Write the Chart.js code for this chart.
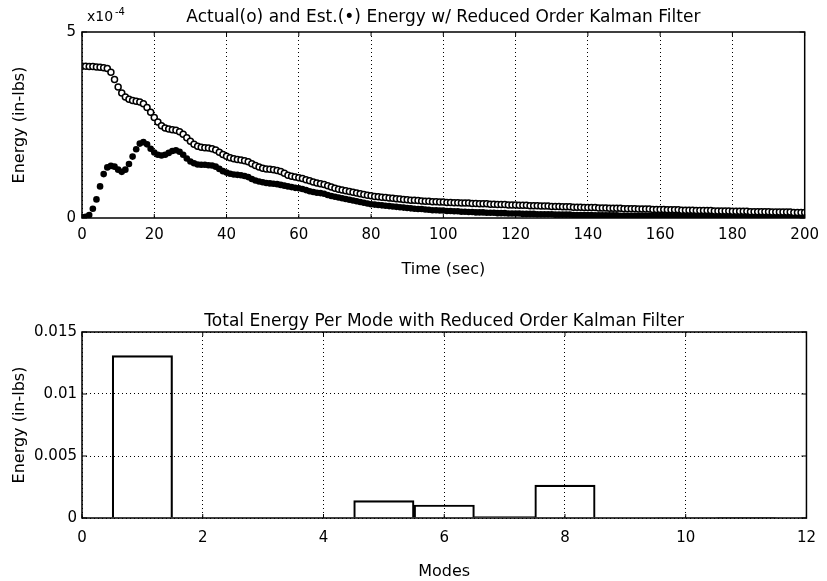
<!DOCTYPE html>
<html>
<head>
<meta charset="utf-8">
<title>Energy w/ Reduced Order Kalman Filter</title>
<script src="https://cdn.jsdelivr.net/npm/chart.js@4.4.1/dist/chart.umd.min.js"></script>
<style>
  html, body { margin: 0; padding: 0; background: #fff; }
  #wrap { position: relative; width: 827px; height: 581px; }
  #energyChart { position: absolute; left: 0; top: 0; }
  #modeChart { position: absolute; left: 0; top: 290px; }
</style>
</head>
<body>
<div id="wrap">
  <canvas id="energyChart" width="827" height="290"></canvas>
  <canvas id="modeChart" width="827" height="291"></canvas>
</div>
<script>
/* ---- Data ---- */
const timeSec = [
  0,1,2,3,4,5,6,7,8,9,10,11,12,13,14,15,16,17,18,19,
  20,21,22,23,24,25,26,27,28,29,30,31,32,33,34,35,36,37,38,39,
  40,41,42,43,44,45,46,47,48,49,50,51,52,53,54,55,56,57,58,59,
  60,61,62,63,64,65,66,67,68,69,70,71,72,73,74,75,76,77,78,79,
  80,81,82,83,84,85,86,87,88,89,90,91,92,93,94,95,96,97,98,99,
  100,101,102,103,104,105,106,107,108,109,110,111,112,113,114,115,116,117,118,119,
  120,121,122,123,124,125,126,127,128,129,130,131,132,133,134,135,136,137,138,139,
  140,141,142,143,144,145,146,147,148,149,150,151,152,153,154,155,156,157,158,159,
  160,161,162,163,164,165,166,167,168,169,170,171,172,173,174,175,176,177,178,179,
  180,181,182,183,184,185,186,187,188,189,190,191,192,193,194,195,196,197,198,199,
  200
];

// energy in units of 1e-4 in-lbs (axis shows x10^-4)
const actualEnergy = [
  4.08,4.08,4.07,4.07,4.06,4.05,4.04,4.02,3.92,3.72,
  3.52,3.36,3.25,3.19,3.16,3.14,3.12,3.07,2.97,2.84,
  2.70,2.58,2.48,2.42,2.39,2.37,2.36,2.32,2.25,2.16,
  2.06,1.98,1.93,1.90,1.89,1.88,1.86,1.83,1.77,1.71,
  1.66,1.62,1.59,1.57,1.56,1.54,1.51,1.46,1.41,1.37,
  1.34,1.32,1.31,1.30,1.28,1.25,1.20,1.15,1.12,1.10,
  1.08,1.06,1.03,1.00,0.97,0.94,0.92,0.90,0.87,0.83,
  0.80,0.77,0.75,0.73,0.71,0.69,0.67,0.65,0.63,0.61,
  0.60,0.58,0.57,0.56,0.55,0.54,0.53,0.52,0.51,0.50,
  0.49,0.48,0.48,0.47,0.46,0.45,0.45,0.44,0.44,0.43,
  0.43,0.42,0.42,0.41,0.41,0.40,0.40,0.40,0.39,0.39,
  0.38,0.38,0.38,0.37,0.37,0.36,0.36,0.36,0.35,0.35,
  0.35,0.34,0.34,0.34,0.33,0.33,0.33,0.32,0.32,0.32,
  0.31,0.31,0.31,0.30,0.30,0.30,0.29,0.29,0.29,0.28,
  0.28,0.28,0.28,0.27,0.27,0.27,0.26,0.26,0.26,0.26,
  0.25,0.25,0.25,0.25,0.24,0.24,0.24,0.24,0.23,0.23,
  0.23,0.23,0.22,0.22,0.22,0.22,0.21,0.21,0.21,0.21,
  0.20,0.20,0.20,0.20,0.20,0.19,0.19,0.19,0.19,0.19,
  0.18,0.18,0.18,0.18,0.18,0.17,0.17,0.17,0.17,0.17,
  0.17,0.16,0.16,0.16,0.16,0.16,0.16,0.15,0.15,0.15,
  0.15
];

const estEnergy = [
  0.02,0.03,0.08,0.25,0.50,0.85,1.18,1.36,1.40,1.38,
  1.30,1.24,1.30,1.45,1.65,1.85,2.00,2.04,1.98,1.86,
  1.76,1.70,1.68,1.70,1.75,1.80,1.82,1.78,1.70,1.60,
  1.52,1.47,1.44,1.43,1.43,1.42,1.41,1.38,1.32,1.26,
  1.22,1.19,1.17,1.16,1.15,1.13,1.10,1.05,1.01,0.98,
  0.96,0.94,0.93,0.92,0.91,0.89,0.87,0.85,0.83,0.81,
  0.80,0.78,0.75,0.72,0.70,0.68,0.67,0.65,0.62,0.59,
  0.57,0.55,0.53,0.51,0.49,0.47,0.45,0.43,0.41,0.39,
  0.37,0.36,0.35,0.34,0.33,0.32,0.31,0.30,0.29,0.28,
  0.27,0.26,0.25,0.24,0.24,0.23,0.22,0.21,0.21,0.20,
  0.20,0.19,0.19,0.18,0.18,0.17,0.17,0.16,0.16,0.15,
  0.15,0.15,0.14,0.14,0.14,0.13,0.13,0.13,0.12,0.12,
  0.12,0.12,0.11,0.11,0.11,0.11,0.10,0.10,0.10,0.10,
  0.10,0.09,0.09,0.09,0.09,0.09,0.08,0.08,0.08,0.08,
  0.08,0.08,0.07,0.07,0.07,0.07,0.07,0.07,0.07,0.06,
  0.06,0.06,0.06,0.06,0.06,0.06,0.06,0.06,0.05,0.05,
  0.05,0.05,0.05,0.05,0.05,0.05,0.05,0.05,0.05,0.05,
  0.05,0.05,0.05,0.05,0.05,0.04,0.04,0.04,0.04,0.04,
  0.04,0.04,0.04,0.04,0.04,0.04,0.04,0.04,0.04,0.04,
  0.04,0.04,0.04,0.04,0.04,0.03,0.03,0.03,0.03,0.03,
  0.03
];

const timeTicks = [0, 20, 40, 60, 80, 100, 120, 140, 160, 180, 200];
const energyTicks = [0, 5];

const modes = [1, 2, 3, 4, 5, 6, 7, 8, 9, 10, 11];
const modeEnergy = [0.0131, 0, 0, 0, 0.0014, 0.00105, 0.00012, 0.00265, 0, 0.00004, 0.00002];
const modeTicks = [0, 2, 4, 6, 8, 10, 12];
const modeEnergyTicks = [0, 0.005, 0.01, 0.015];

/* ---- Shared look ---- */
Chart.defaults.font.family = "'DejaVu Sans', sans-serif";
Chart.defaults.font.size = 15;
Chart.defaults.color = "#000";
Chart.defaults.animation = false;

/* ---- Box round the plot area, with inward tick marks ---- */
const frameBox = {
  id: "frameBox",
  afterDraw(chart) {
    const { ctx, chartArea: a, scales } = chart;
    ctx.save();
    ctx.strokeStyle = "#000";
    ctx.lineWidth = 1.5;
    ctx.strokeRect(a.left, a.top, a.right - a.left, a.bottom - a.top);
    ctx.lineWidth = 1;
    ctx.beginPath();
    scales.x.ticks.forEach((t) => {
      const x = scales.x.getPixelForValue(t.value);
      ctx.moveTo(x, a.bottom); ctx.lineTo(x, a.bottom - 4);
      ctx.moveTo(x, a.top); ctx.lineTo(x, a.top + 4);
    });
    scales.y.ticks.forEach((t) => {
      const y = scales.y.getPixelForValue(t.value);
      ctx.moveTo(a.left, y); ctx.lineTo(a.left + 5, y);
      ctx.moveTo(a.right, y); ctx.lineTo(a.right - 5, y);
    });
    ctx.stroke();
    ctx.restore();
  },
};

/* ---- x10^-4 exponent over the top y axis ---- */
const exponentLabel = {
  id: "exponentLabel",
  afterDraw(chart) {
    const { ctx, chartArea: a } = chart;
    ctx.save();
    ctx.fillStyle = "#000";
    ctx.textBaseline = "alphabetic";
    ctx.font = "14px 'DejaVu Sans', sans-serif";
    ctx.fillText("x10", a.left + 5, a.top - 11);
    ctx.font = "10px 'DejaVu Sans', sans-serif";
    ctx.fillText("-4", a.left + 33, a.top - 17);
    ctx.restore();
  },
};

function fixedTicks(list) {
  return (scale) => { scale.ticks = list.map((v) => ({ value: v })); };
}

/* ---- Top: actual vs estimated energy ---- */
new Chart(document.getElementById("energyChart"), {
  type: "scatter",
  data: {
    datasets: [
      {
        label: "Actual",
        data: timeSec.map((t, i) => ({ x: t, y: actualEnergy[i] })),
        pointRadius: 3,
        pointBorderWidth: 1.5,
        pointBackgroundColor: "#fff",
        pointBorderColor: "#000",
      },
      {
        label: "Est.",
        data: timeSec.map((t, i) => ({ x: t, y: estEnergy[i] })),
        pointRadius: 3.3,
        pointBorderWidth: 0,
        pointBackgroundColor: "#000",
        pointBorderColor: "#000",
      },
    ],
  },
  options: {
    responsive: false,
    devicePixelRatio: 1,
    layout: { padding: { left: 0, right: 17, top: 0, bottom: 10 } },
    plugins: {
      legend: { display: false },
      tooltip: { enabled: false },
      title: {
        display: true,
        fullSize: false,
        text: "Actual(o) and Est.(\u2022) Energy w/ Reduced Order Kalman Filter",
        color: "#000",
        font: { size: 17, weight: "normal" },
        padding: { top: 7.8, bottom: 3.8 },
      },
    },
    scales: {
      x: {
        type: "linear",
        min: 0,
        max: 200,
        afterBuildTicks: fixedTicks(timeTicks),
        afterFit: (s) => { s.height = 62; },
        grid: { color: "#000", lineWidth: 1, drawTicks: false },
        border: { display: false, dash: [1, 3] },
        ticks: { padding: 8, maxRotation: 0, callback: (v) => String(v) },
        title: { display: true, text: "Time (sec)", font: { size: 16 }, padding: { top: 0, bottom: 0.4 } },
      },
      y: {
        type: "linear",
        min: 0,
        max: 5,
        afterBuildTicks: fixedTicks(energyTicks),
        afterFit: (s) => { s.width = 82; },
        grid: { display: false, drawTicks: false },
        border: { display: false },
        ticks: { padding: 6, callback: (v) => String(v) },
        title: { display: true, text: "Energy (in-lbs)", font: { size: 16 }, padding: { top: 10, bottom: 0 } },
      },
    },
  },
  plugins: [frameBox, exponentLabel],
});

/* ---- Bottom: total energy per mode ---- */
new Chart(document.getElementById("modeChart"), {
  type: "bar",
  data: {
    datasets: [{
      label: "Total Energy",
      data: modes.map((m, i) => ({ x: m, y: modeEnergy[i] })),
      backgroundColor: "rgba(0,0,0,0)",
      borderColor: "#000",
      borderWidth: 1.5,
      barPercentage: 1,
      categoryPercentage: 1,
    }],
  },
  options: {
    responsive: false,
    devicePixelRatio: 1,
    layout: { padding: { left: 0, right: 17, top: 0, bottom: 0 } },
    plugins: {
      legend: { display: false },
      tooltip: { enabled: false },
      title: {
        display: true,
        fullSize: false,
        text: "Total Energy Per Mode with Reduced Order Kalman Filter",
        color: "#000",
        font: { size: 17, weight: "normal" },
        padding: { top: 21.6, bottom: 0 },
      },
    },
    scales: {
      x: {
        type: "linear",
        min: 0,
        max: 12,
        offset: false,
        afterBuildTicks: fixedTicks(modeTicks),
        afterFit: (s) => { s.height = 63; },
        grid: { color: "#000", lineWidth: 1, drawTicks: false, offset: false },
        border: { display: false, dash: [1, 3] },
        ticks: { padding: 11, maxRotation: 0, callback: (v) => String(v) },
        title: { display: true, text: "Modes", font: { size: 16 }, padding: { top: 0, bottom: 0 } },
      },
      y: {
        type: "linear",
        min: 0,
        max: 0.015,
        afterBuildTicks: fixedTicks(modeEnergyTicks),
        afterFit: (s) => { s.width = 82; },
        grid: { color: "#000", lineWidth: 1, drawTicks: false },
        border: { display: false, dash: [1, 3] },
        ticks: { padding: 5, callback: (v) => String(v) },
        title: { display: true, text: "Energy (in-lbs)", font: { size: 16 }, padding: { top: 10, bottom: 0 } },
      },
    },
  },
  plugins: [frameBox],
});
</script>
</body>
</html>
